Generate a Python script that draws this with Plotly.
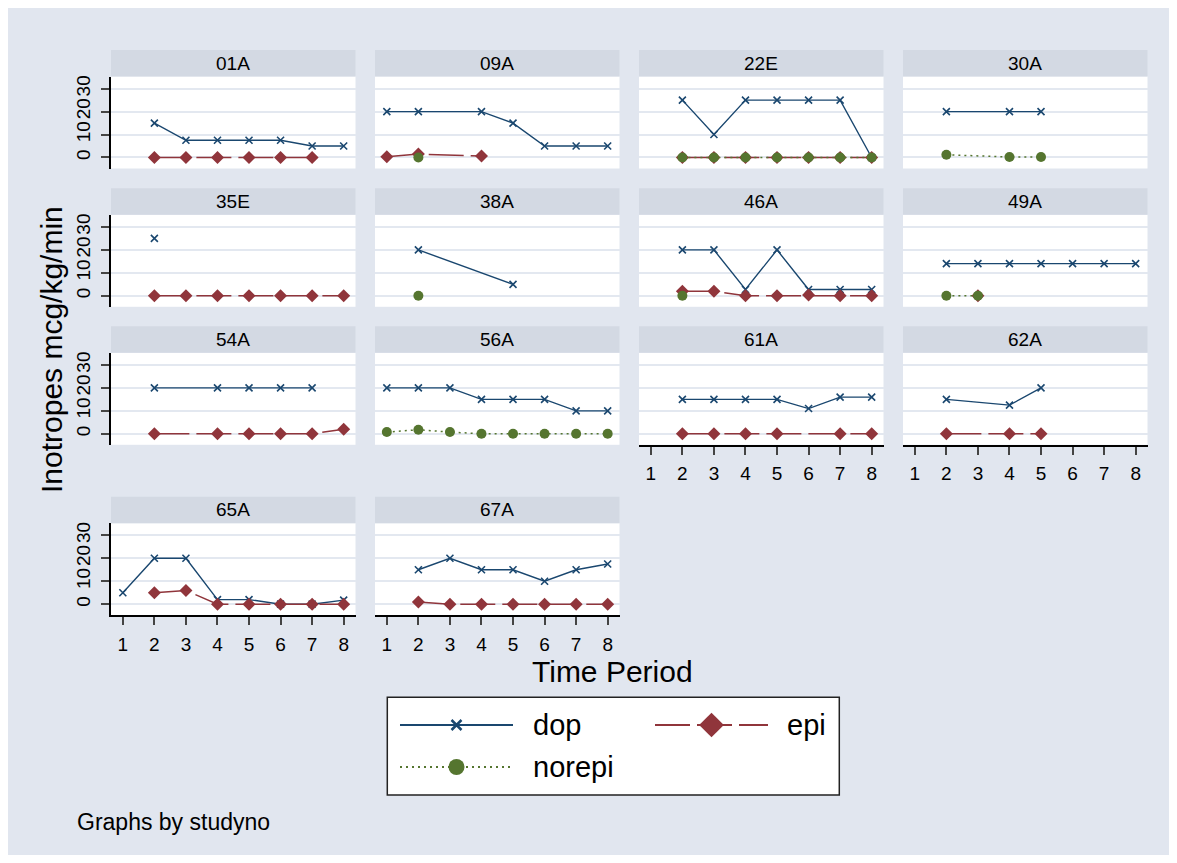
import plotly.graph_objects as go

# ---------------- data ----------------
studies = ["01A", "09A", "22E", "30A", "35E", "38A", "46A", "49A",
           "54A", "56A", "61A", "62A", "65A", "67A"]
periods = [1, 2, 3, 4, 5, 6, 7, 8]
N = None
dop = [
    [N, 15, 7.5, 7.5, 7.5, 7.5, 5, 5],      # 01A
    [20, 20, N, 20, 15, 5, 5, 5],           # 09A
    [N, 25, 10, 25, 25, 25, 25, 0],         # 22E
    [N, 20, N, 20, 20, N, N, N],            # 30A
    [N, 25, N, N, N, N, N, N],              # 35E
    [N, 20, N, N, 5, N, N, N],              # 38A
    [N, 20, 20, 2.75, 20, 2.75, 2.75, 2.75],  # 46A
    [N, 14, 14, 14, 14, 14, 14, 14],        # 49A
    [N, 20, N, 20, 20, 20, 20, N],          # 54A
    [20, 20, 20, 15, 15, 15, 10, 10],       # 56A
    [N, 15, 15, 15, 15, 11, 16, 16],        # 61A
    [N, 15, N, 12.5, 20, N, N, N],          # 62A
    [5, 20, 20, 2, 2, 0, 0, 1.75],          # 65A
    [N, 15, 20, 15, 15, 10, 15, 17.5],      # 67A
]
epi = [
    [N, 0, 0, 0, 0, 0, 0, N],               # 01A
    [0.3, 1.5, N, 0.6, N, N, N, N],         # 09A
    [N, 0, 0, 0, 0, 0, 0, 0],               # 22E
    [N, N, N, N, N, N, N, N],               # 30A
    [N, 0, 0, 0, 0, 0, 0, 0],               # 35E
    [N, N, N, N, N, N, N, N],               # 38A
    [N, 2, 2, 0, 0, 0.3, 0, 0],             # 46A
    [N, N, 0, N, N, N, N, N],               # 49A
    [N, 0, N, 0, 0, 0, 0, 2],               # 54A
    [N, N, N, N, N, N, N, N],               # 56A
    [N, 0, 0, 0, 0, N, 0, 0],               # 61A
    [N, 0, N, 0, 0, N, N, N],               # 62A
    [N, 5, 6, 0, 0, 0, 0, 0],               # 65A
    [N, 1, 0, 0, 0, 0, 0, 0],               # 67A
]
norepi = [
    [N] * 8,                                # 01A
    [N, 0, N, N, N, N, N, N],               # 09A
    [N, 0, 0, 0, 0, 0, 0, 0],               # 22E
    [N, 1.2, N, 0.2, 0.2, N, N, N],         # 30A
    [N] * 8,                                # 35E
    [N, 0, N, N, N, N, N, N],               # 38A
    [N, 0, N, N, N, N, N, N],               # 46A
    [N, 0, 0, N, N, N, N, N],               # 49A
    [N] * 8,                                # 54A
    [0.75, 1.75, 0.75, 0, 0, 0, 0, 0],      # 56A
    [N] * 8,                                # 61A
    [N] * 8,                                # 62A
    [N] * 8,                                # 65A
    [N] * 8,                                # 67A
]
series_names = ["dop", "epi", "norepi"]
y_ticks = [0, 10, 20, 30]

# ---------------- style ----------------
OFF = 8                      # page margin of the browser body
W, H = 1161, 847
BG = "#E1E6EF"
STRIP = "#D3D9E3"
GRID = "#E3E8F0"
NAVY = "#1A476F"
MAROON = "#90353B"
GREEN = "#55752F"
FONT = "Liberation Sans, Arial, sans-serif"

styles = {
    "dop": dict(line=dict(color=NAVY, width=1.4),
                marker=dict(symbol="x-thin", size=7, color=NAVY,
                            line=dict(color=NAVY, width=1.6))),
    "epi": dict(line=dict(color=MAROON, width=1.5, dash="35px,7px"),
                marker=dict(symbol="diamond", size=10, color=MAROON,
                            line=dict(width=0))),
    "norepi": dict(line=dict(color=GREEN, width=1.5, dash="2px,4px"),
                   marker=dict(symbol="circle", size=10, color=GREEN,
                               line=dict(width=0))),
}

# positions in screenshot pixels
col_left = [111, 375, 639, 903]
PW = 244.5
row_top = [50, 188.3, 326.3, 496.7]
STRIP_H = 26.5
PH = 92.0
XR = [0.625, 8.375]
YR = [-4.8, 35.3]


def fx(p):
    return (p - OFF) / W


def fy(p):
    return 1 - (p - OFF) / H


fig = go.Figure()
layout = {}
shapes = []
annotations = []

data_by_series = {"dop": dop, "epi": epi, "norepi": norepi}

for i, s in enumerate(studies):
    ax = i + 1
    r, c = divmod(i, 4)
    xref = "x" if ax == 1 else f"x{ax}"
    yref = "y" if ax == 1 else f"y{ax}"
    xkey = "xaxis" if ax == 1 else f"xaxis{ax}"
    ykey = "yaxis" if ax == 1 else f"yaxis{ax}"
    L = col_left[c]
    T = row_top[r]
    ptop = T + STRIP_H
    pbot = ptop + PH
    bottom = i + 4 >= len(studies)
    left = c == 0

    for name in series_names:
        vals = data_by_series[name][i]
        xs = [p for p, v in zip(periods, vals) if v is not None]
        ys = [v for v in vals if v is not None]
        if not ys:
            continue
        fig.add_trace(go.Scatter(x=xs, y=ys, xaxis=xref, yaxis=yref,
                                 mode="lines+markers", name=name,
                                 showlegend=False, cliponaxis=False,
                                 **styles[name]))

    layout[xkey] = dict(
        domain=[fx(L), fx(L + PW)], range=XR, anchor=yref,
        showgrid=False, zeroline=False,
        showline=bottom, linecolor="black", linewidth=1.5,
        ticks="outside" if bottom else "", tickvals=periods,
        ticklen=8, tickwidth=1.5, tickcolor="#444",
        showticklabels=bottom, ticklabelstandoff=3,
        tickfont=dict(size=19, color="black", family=FONT),
        fixedrange=True)
    layout[ykey] = dict(
        domain=[fy(pbot), fy(ptop)], range=YR, anchor=xref,
        tickvals=y_ticks, showgrid=True, gridcolor=GRID, gridwidth=2,
        zeroline=False, showline=left, linecolor="black", linewidth=1.5,
        ticks="outside" if left else "", ticklen=8, tickwidth=1.5,
        tickcolor="#444", showticklabels=left, tickangle=-90,
        ticklabelstandoff=4,
        tickfont=dict(size=19, color="black", family=FONT),
        fixedrange=True)

    shapes.append(dict(type="rect", xref="paper", yref="paper",
                       x0=fx(L), x1=fx(L + PW), y0=fy(ptop), y1=fy(T),
                       fillcolor=STRIP, line=dict(width=0), layer="below"))
    annotations.append(dict(text=s, xref="paper", yref="paper",
                            x=fx(L + PW / 2), y=fy(T + STRIP_H / 2),
                            xanchor="center", yanchor="middle",
                            showarrow=False,
                            font=dict(size=19, color="black", family=FONT)))

# ---------------- custom legend (key samples) ----------------
LB = dict(x0=387.3, x1=839.3, y0=697.3, y1=795)
lx = f"x{len(studies) + 1}"
ly = f"y{len(studies) + 1}"
layout[f"xaxis{len(studies) + 1}"] = dict(
    domain=[fx(LB["x0"]), fx(LB["x1"])], range=[LB["x0"], LB["x1"]],
    visible=False, fixedrange=True, anchor=ly)
layout[f"yaxis{len(studies) + 1}"] = dict(
    domain=[fy(LB["y1"]), fy(LB["y0"])], range=[LB["y1"], LB["y0"]],
    visible=False, fixedrange=True, anchor=lx)

legend_keys = [
    ("dop", 400, 513, 725, 530.7, dict(symbol="x-thin", size=10, color=NAVY,
                                      line=dict(color=NAVY, width=2.5))),
    ("epi", 655, 768, 725, 785, dict(symbol="diamond", size=19, color=MAROON,
                                     line=dict(width=0))),
    ("norepi", 400, 513, 767, 530.7, dict(symbol="circle", size=16, color=GREEN,
                                          line=dict(width=0))),
]
for name, x0, x1, yy, tx, mk in legend_keys:
    st = styles[name]
    fig.add_trace(go.Scatter(x=[x0, x1], y=[yy, yy], xaxis=lx, yaxis=ly,
                             mode="lines", line=dict(st["line"], width=2),
                             showlegend=False, hoverinfo="skip"))
    fig.add_trace(go.Scatter(x=[(x0 + x1) / 2], y=[yy], xaxis=lx, yaxis=ly,
                             mode="markers", marker=mk,
                             showlegend=False, hoverinfo="skip"))
    annotations.append(dict(text=name, xref="paper", yref="paper",
                            x=fx(tx), y=fy(yy), xanchor="left",
                            yanchor="middle", showarrow=False,
                            font=dict(size=29, color="black", family=FONT)))

shapes.append(dict(type="rect", xref="paper", yref="paper",
                   x0=fx(LB["x0"]), x1=fx(LB["x1"]),
                   y0=fy(LB["y1"]), y1=fy(LB["y0"]),
                   fillcolor="rgba(0,0,0,0)",
                   line=dict(color="#222", width=1.5), layer="above"))

# ---------------- titles ----------------
annotations.append(dict(text="Inotropes mcg/kg/min", xref="paper", yref="paper",
                        x=fx(51), y=fy(350), xanchor="center", yanchor="middle",
                        textangle=-90, showarrow=False,
                        font=dict(size=30, color="black", family=FONT)))
annotations.append(dict(text="Time Period", xref="paper", yref="paper",
                        x=fx(612.5), y=fy(671), xanchor="center",
                        yanchor="middle", showarrow=False,
                        font=dict(size=30, color="black", family=FONT)))
annotations.append(dict(text="Graphs by studyno", xref="paper", yref="paper",
                        x=fx(75), y=fy(822), xanchor="left",
                        yanchor="middle", showarrow=False,
                        font=dict(size=23, color="black", family=FONT)))

fig.update_layout(
    width=W, height=H,
    margin=dict(l=0, r=0, t=0, b=0),
    paper_bgcolor=BG, plot_bgcolor="white",
    showlegend=False,
    font=dict(family=FONT, color="black"),
    shapes=shapes, annotations=annotations,
    **layout)

fig.write_html("out.html")
